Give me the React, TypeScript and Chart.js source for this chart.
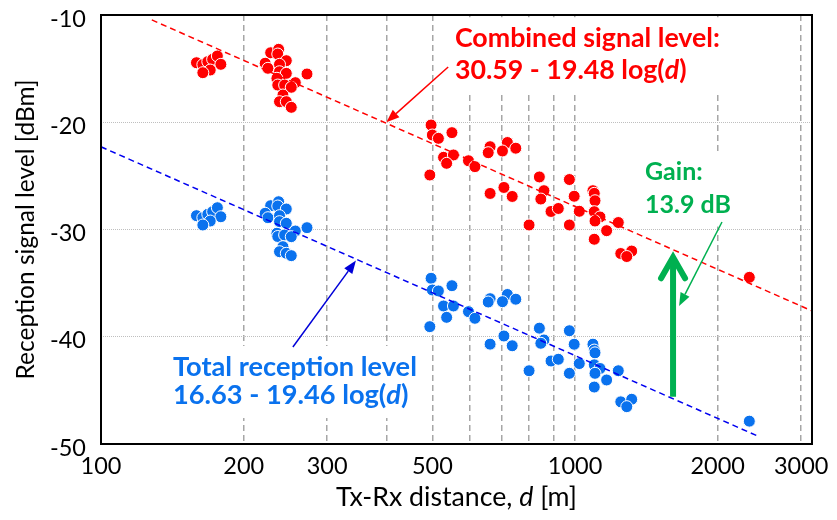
import React, { useEffect, useRef } from 'react';
import { Chart, registerables } from 'chart.js';

Chart.register(...registerables);

// ---------- data ----------
const distances = [
  159, 164, 168, 172, 176, 179, 170, 164,
  228, 237, 236, 246, 222, 225, 238, 238, 246, 235, 236, 244, 257, 252, 242, 238, 246, 252, 272,
  497, 500, 515, 550, 528, 554, 536, 596, 615, 494, 662, 656, 720, 703, 750,
  662, 708, 737, 841, 860, 847, 890, 922, 800, 973, 996, 1021, 973,
  1091, 1098, 1102, 1098, 1129, 1102, 1234, 1166, 1098, 1249, 1317, 1286, 2332,
];
const combinedLevels = [
  -14.45, -14.63, -14.35, -14.13, -13.82, -14.6, -15.13, -15.38,
  -13.52, -13.2, -13.64, -14.26, -14.5, -14.97, -14.6, -15.29, -15.44, -15.9, -16.53, -16.53, -16.31, -16.74, -17.46, -18.08, -18.08, -18.61, -15.5,
  -20.26, -21.19, -21.5, -20.97, -23.27, -23.05, -23.83, -23.59, -24.14, -24.92, -22.28, -22.84, -21.89, -22.68, -22.42,
  -26.64, -26.08, -26.92, -25.1, -26.38, -27.16, -28.32, -28.04, -29.58, -25.34, -26.9, -28.3, -29.58,
  -26.38, -26.63, -27.32, -28.34, -28.83, -29.21, -29.35, -30.11, -30.91, -32.24, -32.01, -32.52, -34.46,
];
const totalLevels = [
  -28.71, -28.9, -28.58, -28.34, -27.97, -28.81, -29.21, -29.58,
  -27.78, -27.41, -27.81, -28.09, -28.49, -28.9, -28.71, -29.27, -29.42, -30.35, -30.65, -30.51, -30.14, -30.67, -31.6, -32.07, -32.22, -32.44, -29.83,
  -34.55, -35.64, -35.73, -35.24, -37.13, -37.13, -38.19, -37.66, -38.28, -39.06, -36.45, -36.76, -36.06, -36.73, -36.5,
  -40.69, -39.93, -40.84, -39.2, -40.3, -40.61, -42.26, -42.1, -43.17, -39.44, -40.7, -42.5, -43.41,
  -40.69, -41.24, -41.5, -42.62, -42.96, -43.41, -43.17, -44.03, -44.69, -46.07, -45.83, -46.52, -47.87,
];
const combinedFitDist = [128, 3162];
const combinedFitLevel = [-10.46, -37.59];
const totalFitDist = [100, 2450];
const totalFitLevel = [-22.29, -49.33];

const xTickValues = [100, 200, 300, 400, 500, 600, 700, 800, 900, 1000, 2000, 3000];
const xLabeledTicks = [100, 200, 300, 500, 1000, 2000, 3000];
const yMin = -50;
const yMax = -10;
const xMin = 100;
const xMax = 3162;

// ---------- styles ----------
const FONT = 'Lato, "Open Sans", "DejaVu Sans", sans-serif';
const RED = '#FF0000';
const BLUE_PT = '#0A72EE';
const BLUE_LINE = '#0000F0';
const GREEN = '#00B050';

type Seg = [string, boolean];

const labelBlocks: { color: string; x: number; ys: number[]; lines: Seg[][]; fitLine: number; fitWidth: number }[] = [
  {
    color: RED, x: 558, ys: [-12.14, -15.13],
    lines: [[['Combined signal level:', false]], [['30.59 - 19.48 log(', false], ['d', true], [')', false]]],
    fitLine: 0, fitWidth: 265,
  },
  {
    color: GREEN, x: 1405, ys: [-24.64, -27.72],
    lines: [[['Gain:', false]], [['13.9 dB', false]]],
    fitLine: 1, fitWidth: 86,
  },
  {
    color: BLUE_PT, x: 141.9, ys: [-42.82, -45.43],
    lines: [[['Total reception level', false]], [['16.63 - 19.46 log(', false], ['d', true], [')', false]]],
    fitLine: 0, fitWidth: 244,
  },
];

const xTitle: Seg[] = [['Tx-Rx distance, ', false], ['d', true], [' [m]', false]];
const xTitleWidth = 241;

const thinArrows = [
  { from: [540, -14.85], to: [400, -20], color: RED },
  { from: [254, -40.96], to: [345, -32.9], color: '#0000D8' },
  { from: [2042, -29.3], to: [1658, -37.13], color: GREEN },
];
const gainArrow = { from: [1610, -45.6], to: [1610, -32.4] };

function fontStr(size: number, bold: boolean, italic: boolean) {
  return `${italic ? 'italic ' : ''}${bold ? 'bold ' : ''}${size}px ${FONT}`;
}
function segsWidth(ctx: CanvasRenderingContext2D, segs: Seg[], size: number, bold: boolean) {
  let w = 0;
  for (const [t, it] of segs) {
    ctx.font = fontStr(size, bold, it);
    w += ctx.measureText(t).width;
  }
  return w;
}
function drawSegs(ctx: CanvasRenderingContext2D, segs: Seg[], x: number, y: number, size: number, bold: boolean, center: boolean) {
  const total = segsWidth(ctx, segs, size, bold);
  let cx = center ? x - total / 2 : x;
  ctx.textAlign = 'left';
  ctx.textBaseline = 'middle';
  for (const [t, it] of segs) {
    ctx.font = fontStr(size, bold, it);
    ctx.fillText(t, cx, y);
    cx += ctx.measureText(t).width;
  }
}
function blockSize(ctx: CanvasRenderingContext2D, b: typeof labelBlocks[number]) {
  const w = segsWidth(ctx, b.lines[b.fitLine], 20, true);
  return (20 * b.fitWidth) / w;
}

const annotationPlugin = {
  id: 'annot',
  beforeDatasetsDraw(chart: any) {
    const { ctx, scales } = chart;
    ctx.save();
    ctx.fillStyle = '#FFFFFF';
    for (const b of labelBlocks) {
      const size = blockSize(ctx, b);
      const x0 = scales.x.getPixelForValue(b.x);
      let maxW = 0;
      for (const l of b.lines) maxW = Math.max(maxW, segsWidth(ctx, l, size, true));
      const yTop = scales.y.getPixelForValue(b.ys[0]) - size * 0.7;
      const yBot = scales.y.getPixelForValue(b.ys[b.ys.length - 1]) + size * 0.7;
      ctx.fillRect(x0 - 4, yTop - 2, maxW + 8, yBot - yTop + 6);
    }
    ctx.restore();
  },
  afterDatasetsDraw(chart: any) {
    const { ctx, scales, chartArea } = chart;
    const X = (v: number) => scales.x.getPixelForValue(v);
    const Y = (v: number) => scales.y.getPixelForValue(v);
    ctx.save();
    for (const b of labelBlocks) {
      const size = blockSize(ctx, b);
      ctx.fillStyle = b.color;
      b.lines.forEach((l, i) => drawSegs(ctx, l, X(b.x), Y(b.ys[i]), size, true, false));
    }
    for (const a of thinArrows) {
      const x1 = X(a.from[0]), y1 = Y(a.from[1]);
      const x2 = X(a.to[0]), y2 = Y(a.to[1]);
      const ang = Math.atan2(y2 - y1, x2 - x1);
      const hl = 13, hw = 10;
      const bx = x2 - hl * Math.cos(ang), by = y2 - hl * Math.sin(ang);
      ctx.strokeStyle = a.color;
      ctx.fillStyle = a.color;
      ctx.lineWidth = 1.5;
      ctx.beginPath();
      ctx.moveTo(x1, y1);
      ctx.lineTo(bx, by);
      ctx.stroke();
      ctx.beginPath();
      ctx.moveTo(x2, y2);
      ctx.lineTo(bx + (hw / 2) * Math.sin(ang), by - (hw / 2) * Math.cos(ang));
      ctx.lineTo(bx - (hw / 2) * Math.sin(ang), by + (hw / 2) * Math.cos(ang));
      ctx.closePath();
      ctx.fill();
    }
    const gx = X(gainArrow.from[0]);
    const gy1 = Y(gainArrow.from[1]);
    const gy2 = Y(gainArrow.to[1]);
    ctx.strokeStyle = GREEN;
    ctx.lineWidth = 6;
    ctx.lineCap = 'butt';
    ctx.beginPath();
    ctx.moveTo(gx, gy1);
    ctx.lineTo(gx, gy2 + 3);
    ctx.stroke();
    ctx.lineCap = 'round';
    ctx.lineJoin = 'miter';
    ctx.beginPath();
    ctx.moveTo(gx - 12, gy2 + 23);
    ctx.lineTo(gx, gy2 + 2);
    ctx.lineTo(gx + 12, gy2 + 23);
    ctx.stroke();

    ctx.lineCap = 'butt';
    ctx.strokeStyle = '#000000';
    ctx.lineWidth = 2;
    ctx.strokeRect(chartArea.left, chartArea.top, chartArea.right - chartArea.left, chartArea.bottom - chartArea.top);

    ctx.fillStyle = '#000000';
    const tw = segsWidth(ctx, xTitle, 20, false);
    drawSegs(ctx, xTitle, (chartArea.left + chartArea.right) / 2, 497, (20 * xTitleWidth) / tw, false, true);
    ctx.restore();
  },
};

export default function App() {
  const ref = useRef<HTMLCanvasElement>(null);
  useEffect(() => {
    document.body.style.margin = '0';
    const canvas = ref.current!;
    const pts = (xs: number[], ys: number[]) => xs.map((x, i) => ({ x, y: ys[i] }));
    const chart = new Chart(canvas, {
      type: 'scatter',
      data: {
        datasets: [
          {
            label: 'Combined fit',
            data: pts(combinedFitDist, combinedFitLevel),
            showLine: true,
            borderColor: RED,
            borderWidth: 1.5,
            borderDash: [6, 4],
            pointRadius: 0,
            order: 0,
          },
          {
            label: 'Total fit',
            data: pts(totalFitDist, totalFitLevel),
            showLine: true,
            borderColor: BLUE_LINE,
            borderWidth: 1.5,
            borderDash: [6, 4],
            pointRadius: 0,
            order: 0,
          },
          {
            label: 'Combined signal level',
            data: pts(distances, combinedLevels),
            backgroundColor: RED,
            borderColor: '#FFFFFF',
            borderWidth: 1,
            pointRadius: 6,
            order: 1,
          },
          {
            label: 'Total reception level',
            data: pts(distances, totalLevels),
            backgroundColor: BLUE_PT,
            borderColor: '#FFFFFF',
            borderWidth: 1,
            pointRadius: 6,
            order: 1,
          },
        ],
      },
      options: {
        responsive: false,
        animation: false,
        events: [],
        layout: { padding: { left: 0, top: 15, right: 25, bottom: 0 } },
        plugins: { legend: { display: false }, tooltip: { enabled: false } },
        scales: {
          x: {
            type: 'logarithmic',
            min: xMin,
            max: xMax,
            afterBuildTicks: (s: any) => {
              s.ticks = xTickValues.map((v) => ({ value: v }));
            },
            afterFit: (s: any) => {
              s.height = 76;
              s.paddingLeft = 0;
              s.paddingRight = 0;
            },
            ticks: {
              autoSkip: false,
              maxRotation: 0,
              padding: 8,
              color: '#000000',
              font: { family: FONT, size: 23.5 },
              callback: (v: any) => (xLabeledTicks.includes(Number(v)) ? String(v) : ''),
            },
            grid: {
              color: (c: any) => (c.tick && c.tick.value === xMin ? 'rgba(0,0,0,0)' : '#A6A6A6'),
              lineWidth: 1.5,
              drawTicks: false,
            },
            border: { display: false, dash: [6, 4] },
          },
          y: {
            type: 'linear',
            min: yMin,
            max: yMax,
            afterFit: (s: any) => {
              s.width = 101;
              s.paddingTop = 0;
              s.paddingBottom = 0;
            },
            ticks: {
              stepSize: 10,
              padding: 15,
              labelOffset: 4,
              color: '#000000',
              font: { family: FONT, size: 23.5 },
            },
            grid: { color: '#BFBFBF', lineWidth: 1, drawTicks: false },
            border: { display: false, dash: [1, 1] },
            title: {
              display: true,
              text: 'Reception signal level [dBm]',
              color: '#000000',
              font: { family: FONT, size: 24.5 },
              padding: { top: 11, bottom: 0 },
            },
          },
        },
      },
      plugins: [annotationPlugin],
    } as any);
    return () => chart.destroy();
  }, []);
  return <canvas ref={ref} width={837} height={520} style={{ display: 'block' }} />;
}
